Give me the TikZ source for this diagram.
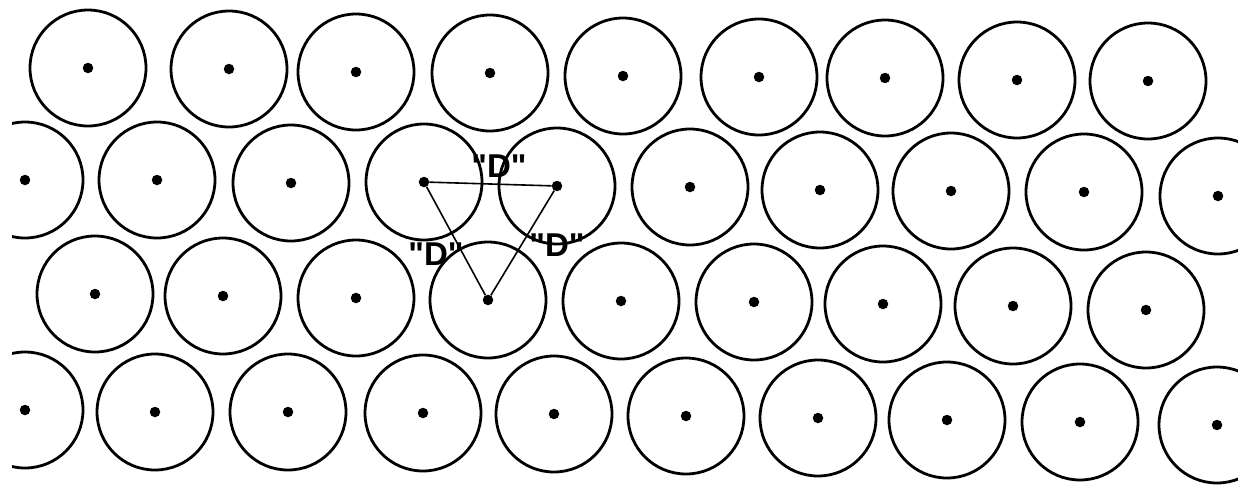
\documentclass[tikz,border=0pt]{standalone}
\usepackage{fontspec}
\setsansfont{Liberation Sans}

\begin{document}
\begin{tikzpicture}[
    x=1pt, y=-1pt,
    disc/.style={circle, draw, line width=2.8pt, minimum size=116pt, inner sep=0pt},
    centre/.style={circle, fill, minimum size=10.5pt, inner sep=0pt},
    link/.style={line width=1.6pt},
    dlabel/.style={font=\sffamily\bfseries\fontsize{33}{35}\selectfont, inner sep=0pt}
]
\useasboundingbox (0,0) rectangle (1238,485);

\begin{scope}
\clip (12,0) rectangle (1238,485);

% Row 1
\foreach \x/\y [count=\i] in {88/68, 229/69, 356/72, 490/73, 623/76, 759/77, 885/78, 1017/80, 1148/81} {
    \node[disc] (a\i) at (\x,\y) {};
    \node[centre] (pa\i) at (\x,\y) {};
}

% Row 2
\foreach \x/\y [count=\i] in {25/180, 157/180, 291/183, 424/182, 557/186, 690/187, 820/190, 951/191, 1084/192, 1218/196} {
    \node[disc] (b\i) at (\x,\y) {};
    \node[centre] (pb\i) at (\x,\y) {};
}

% Row 3
\foreach \x/\y [count=\i] in {95/294, 223/296, 356/298, 488/300, 621/301, 754/302, 883/304, 1013/306, 1146/310} {
    \node[disc] (c\i) at (\x,\y) {};
    \node[centre] (pc\i) at (\x,\y) {};
}

% Row 4
\foreach \x/\y [count=\i] in {25/410, 155/412, 288/412, 423/413, 554/414, 686/416, 818/418, 947/420, 1080/422, 1217/425} {
    \node[disc] (d\i) at (\x,\y) {};
    \node[centre] (pd\i) at (\x,\y) {};
}
\end{scope}

% Triangle
\draw[link] (pb4) -- (pb5);
\draw[link] (pb4) -- (pc4);
\draw[link] (pb5) -- (pc4);

\node[dlabel] (dtop) at (499,166) {\textquotedbl D\textquotedbl};
\node[dlabel] (dleft) at (436,254) {\textquotedbl D\textquotedbl};
\node[dlabel] (dright) at (557,245) {\textquotedbl D\textquotedbl};

\end{tikzpicture}
\end{document}
